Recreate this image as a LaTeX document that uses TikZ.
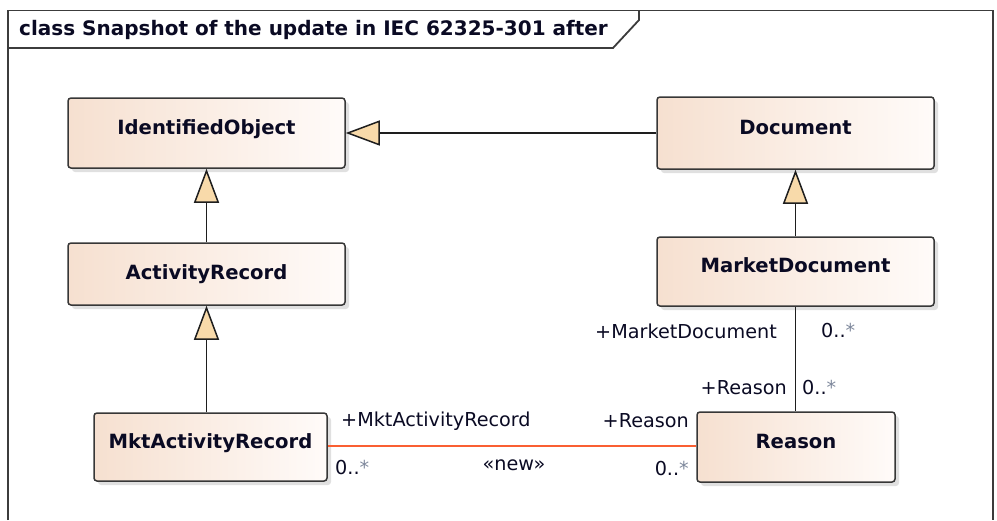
\documentclass[tikz,border=0pt]{standalone}
\usepackage{fontspec}
\setmainfont{DejaVu Sans}
\usetikzlibrary{arrows.meta,shadows}
\definecolor{boxL}{RGB}{246,224,208}
\definecolor{boxR}{RGB}{255,251,249}
\definecolor{boxline}{RGB}{55,55,55}
\definecolor{lineC}{RGB}{30,30,30}
\definecolor{triC}{RGB}{248,218,170}
\definecolor{assocC}{RGB}{250,95,50}
\definecolor{txt}{RGB}{10,10,35}
\definecolor{starC}{RGB}{125,135,155}
\definecolor{frameC}{RGB}{60,60,60}
\newcommand{\mstar}{0..\textcolor{starC}{*}}
\begin{document}
\begin{tikzpicture}[x=1pt,y=-1pt,
  frame/.style={draw=frameC,line width=1.8pt},
  cls/.style={draw=boxline,line width=1.5pt,rounded corners=3pt,left color=boxL,right color=boxR,
    font=\bfseries\fontsize{19.6}{22}\selectfont,text=txt,inner sep=0pt,
    drop shadow={shadow xshift=4pt,shadow yshift=-4pt,fill=black!12,opacity=1}},
  raised/.style={text height=14pt,text depth=12pt},
  gen/.style={draw=lineC,line width=1.5pt,-{Triangle[width=25pt,length=34pt,fill=triC]}},
  assoc/.style={draw=assocC,line width=1.5pt},
  plain/.style={draw=lineC,line width=1.5pt},
  lbl/.style={font=\fontsize{19.2}{22}\selectfont,text=txt,inner sep=0pt}
]
\useasboundingbox (0,0) rectangle (997,520);
% frame
\draw[frame] (8,520) -- (8,10.5) -- (993,10.5) -- (993,520);
\draw[frame] (8,48) -- (613,48) -- (639,20) -- (639,10.5);
\node[anchor=west,font=\bfseries\fontsize{20}{22}\selectfont,text=txt,inner sep=0pt] (title) at (19,29.5) {class Snapshot of the update in IEC 62325-301 after};
% classes
\node[cls,raised,minimum width=277pt,minimum height=70pt] (IO) at (206.5,133) {IdentifiedObject};
\node[cls,raised,minimum width=277pt,minimum height=72pt] (Doc) at (795.5,133) {Document};
\node[cls,raised,minimum width=277pt,minimum height=69pt] (MD) at (795.5,271.5) {MarketDocument};
\node[cls,minimum width=277pt,minimum height=62pt] (AR) at (206.5,274) {ActivityRecord};
\node[cls,raised,minimum width=233pt,minimum height=68pt] (MAR) at (210.5,447) {MktActivityRecord};
\node[cls,raised,minimum width=198pt,minimum height=70pt] (R) at (796,447) {Reason};
% connectors
\draw[gen] (Doc.west) -- (IO.east);
\draw[gen] (AR.north) -- (IO.south);
\draw[gen] (MD.north) -- (Doc.south);
\draw[gen] (MAR.north -| AR.south) -- (AR.south);
\draw[plain] (MD.south) -- (R.north -| MD.south);
\draw[assoc] (MAR.east |- 0,446) -- (R.west |- 0,446);
% labels
\node[lbl,anchor=east] (l1) at (777,331) {+MarketDocument};
\node[lbl,anchor=west] (l2) at (821,331) {\mstar};
\node[lbl,anchor=east] (l3) at (787,388) {+Reason};
\node[lbl,anchor=west] (l4) at (802,388) {\mstar};
\node[lbl,anchor=east] (l5) at (689,421) {+Reason};
\node[lbl,anchor=east] (l6) at (689,469) {\mstar};
\node[lbl,anchor=west] (l7) at (341,421) {+MktActivityRecord};
\node[lbl,anchor=west] (l8) at (335,468) {\mstar};
\node[lbl] (l9) at (514,465) {«new»};
\end{tikzpicture}
\end{document}
